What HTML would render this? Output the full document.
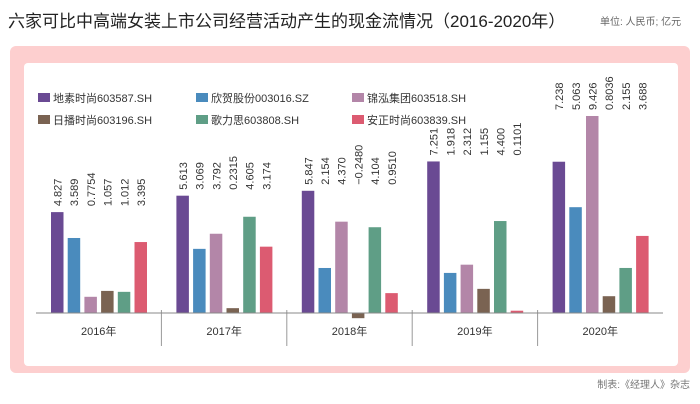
<!DOCTYPE html>
<html><head><meta charset="utf-8"><style>
body{margin:0;width:700px;height:404px;background:#fff;overflow:hidden;font-family:"Liberation Sans","Noto Sans CJK SC",sans-serif;position:relative}
.t{position:absolute;white-space:nowrap}
</style></head><body>
<div class="t" style="left:8px;top:7px;font-size:17px;color:#222">六家可比中高端女装上市公司经营活动产生的现金流情况（2016-2020年）</div>
<div class="t" style="left:600px;top:13px;font-size:10px;color:#666">单位: 人民币; 亿元</div>
<div style="position:absolute;left:10px;top:46px;width:680px;height:327px;background:#fdcfcf;border-radius:6px"></div>
<div style="position:absolute;left:24px;top:63px;width:654px;height:303px;background:#fff;border-radius:4px"></div>
<div class="t" style="right:10px;top:376px;font-size:10px;color:#777">制表:《经理人》杂志</div>
<svg id="c" width="700" height="404" style="position:absolute;left:0;top:0"></svg>
<script>
const years=["2016年","2017年","2018年","2019年","2020年"];
const seriesNames=["地素时尚603587.SH","欣贺股份003016.SZ","锦泓集团603518.SH","日播时尚603196.SH","歌力思603808.SH","安正时尚603839.SH"];
const s0=[4.827,5.613,5.847,7.251,7.238];
const s1=[3.589,3.069,2.154,1.918,5.063];
const s2=[0.7754,3.792,4.370,2.312,9.426];
const s3=[1.057,0.2315,-0.2480,1.155,0.8036];
const s4=[1.012,4.605,4.104,4.400,2.155];
const s5=[3.395,3.174,0.9510,0.1101,3.688];
const labels=[["4.827","3.589","0.7754","1.057","1.012","3.395"],["5.613","3.069","3.792","0.2315","4.605","3.174"],["5.847","2.154","4.370","−0.2480","4.104","0.9510"],["7.251","1.918","2.312","1.155","4.400","0.1101"],["7.238","5.063","9.426","0.8036","2.155","3.688"]];
const colors=["#6a4a93","#4a8bbd","#b386a8","#7a6352","#5f9e86","#dc5b71"];
const series=[s0,s1,s2,s3,s4,s5];
const NS="http://www.w3.org/2000/svg";
const svg=document.getElementById('c');
const x0=36,gw=125.4,base=313,k=20.9;
const y=v=>base-v*k;
function mk(t,a){const e=document.createElementNS(NS,t);for(const q in a)e.setAttribute(q,a[q]);svg.appendChild(e);return e;}
// legend
seriesNames.forEach((n,i)=>{
 const lx=[38,196,352][i%3],ly=i<3?98:120;
 const r=mk('rect',{x:lx,y:ly-5,width:12,height:9,fill:colors[i]});
 
 
 const t=mk('text',{x:lx+15,y:ly+4,'font-size':11,fill:'#333'});
 t.textContent=n;
 
 
});
years.forEach((yr,g)=>{
 const gx=x0+g*gw;
 let mx=0;series.forEach(s=>mx=Math.max(mx,s[g]));
 const lb=y(mx)-6;
 series.forEach((s,i)=>{
  const v=s[g],bx=gx+15+i*16.7;
  const r=mk('rect',{x:bx,y:Math.min(y(v),base),width:12.5,height:Math.abs(v*k),fill:colors[i]});
  
  
  const tx=bx+10.5;
  const t=mk('text',{x:tx,y:lb,'font-size':11,fill:'#333',transform:`rotate(-90 ${tx} ${lb})`});
  t.textContent=labels[g][i];
  
  
 });
 const t=mk('text',{x:gx+gw/2,y:335,'font-size':11,fill:'#333','text-anchor':'middle'});
 t.textContent=yr;
 
 
 if(g>0){const l=mk('line',{x1:gx,x2:gx,y1:310,y2:346,stroke:'#999','stroke-width':1});
 
 }
});
const ax=mk('line',{x1:x0,x2:x0+5*gw,y1:base,y2:base,stroke:'#888','stroke-width':1});


</script>
</body></html>
